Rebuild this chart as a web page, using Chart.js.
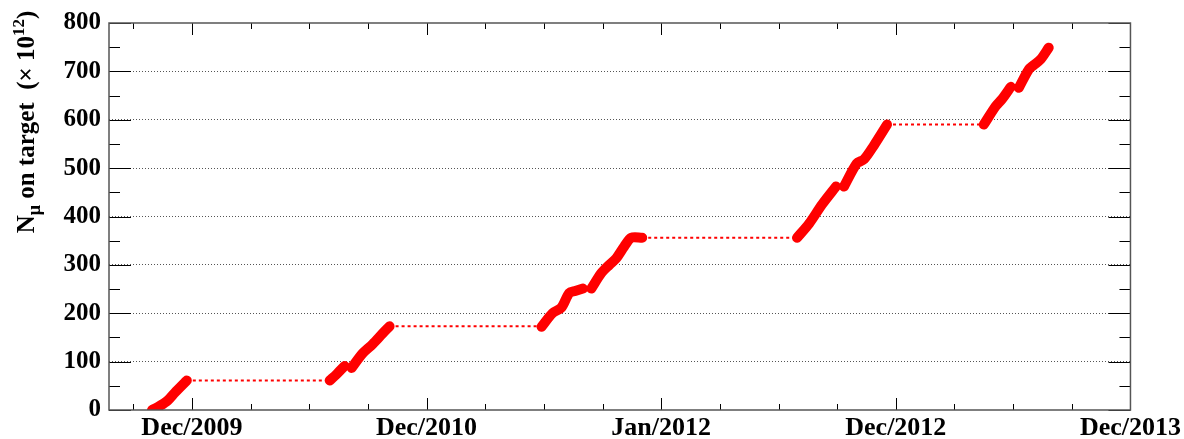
<!DOCTYPE html>
<html>
<head>
<meta charset="utf-8">
<script src="https://cdn.jsdelivr.net/npm/chart.js@4"></script>
<style>
  body { margin: 0; background: #fff; }
  #wrap { width: 1184px; height: 439px; position: relative; }
</style>
</head>
<body>
<div id="wrap"><canvas id="pot"></canvas></div>
<script>
'use strict';

// x = months since Dec/2009
var xTickValues = [0, 12, 24, 36, 48];
var xTickLabels = ['Dec/2009', 'Dec/2010', 'Jan/2012', 'Dec/2012', 'Dec/2013'];
var yTickValues = [0, 100, 200, 300, 400, 500, 600, 700, 800];

// accumulated muons on target, one array pair per run period (null = short break)
var run1X = [-2.04, -1.74, -1.23, -0.87, -0.36, -0.26];
var run1Y = [0, 6, 20, 36, 57, 61];
var run2X = [7.05, 7.4, 7.81, null, 8.17, 8.73, 9.24, 9.75, 10.11];
var run2Y = [61, 74, 91, null, 87, 117, 136, 158, 173];
var run3X = [17.88, 18.44, 18.9, 19.3, 19.6, 20.0, null, 20.43, 20.94, 21.35, 21.71, 22.11, 22.47, 23.03];
var run3Y = [172, 200, 212, 242, 246, 251, null, 251, 283, 300, 314, 338, 356, 356];
var run4X = [30.95, 31.56, 32.23, 32.94, null, 33.35, 34.01, 34.37, 34.88, 35.55];
var run4Y = [356, 385, 425, 462, null, 462, 510, 518, 547, 590];
var run5X = [40.5, 41.11, 41.42, 41.88, null, 42.29, 42.8, 43.05, 43.41, 43.82];
var run5Y = [590, 628, 642, 668, null, 666, 704, 713, 725, 749];

var runs = [[run1X, run1Y], [run2X, run2Y], [run3X, run3Y], [run4X, run4Y], [run5X, run5Y]];

function toPoints(xs, ys) {
  return xs.map(function (x, i) {
    return x === null ? { x: null, y: null } : { x: x, y: ys[i] };
  });
}

// dotted plateaus between runs (shutdown periods)
var gapPoints = [];
for (var i = 0; i < runs.length - 1; i++) {
  var xs = runs[i][0], ys = runs[i][1];
  var last = ys[ys.length - 1];
  gapPoints.push({ x: xs[xs.length - 1], y: last });
  gapPoints.push({ x: runs[i + 1][0][0], y: last });
  gapPoints.push({ x: null, y: null });
}

var datasets = [{
  label: 'shutdown',
  data: gapPoints,
  borderColor: '#ff0000',
  borderWidth: 2,
  borderDash: [3, 3],
  pointRadius: 0,
  spanGaps: false,
  tension: 0
}];
runs.forEach(function (r, k) {
  datasets.push({
    label: 'run ' + (k + 1),
    data: toPoints(r[0], r[1]),
    borderColor: '#ff0000',
    borderWidth: 10,
    borderCapStyle: 'round',
    borderJoinStyle: 'round',
    pointRadius: 0,
    spanGaps: false,
    tension: 0.3
  });
});

var serif = '"Liberation Serif", "DejaVu Serif", serif';

// frame with inward ticks on all four sides, ROOT style
var frameTicks = {
  id: 'frameTicks',
  afterDraw: function (chart) {
    var ctx = chart.ctx, a = chart.chartArea;
    var xs = chart.scales.x, ys = chart.scales.y;
    ctx.save();
    ctx.strokeStyle = '#000';
    ctx.lineWidth = 1;
    ctx.beginPath();
    for (var v = 0; v <= 800; v += 50) {
      var py = Math.round(ys.getPixelForValue(v)) + 0.5;
      var len = v % 100 === 0 ? 22 : 11;
      ctx.moveTo(a.left, py); ctx.lineTo(a.left + len, py);
      ctx.moveTo(a.right, py); ctx.lineTo(a.right - len, py);
    }
    for (var m = -3; m <= 48; m += 3) {
      var px = Math.round(xs.getPixelForValue(m)) + 0.5;
      var l2 = m % 12 === 0 ? 12 : 6;
      ctx.moveTo(px, a.bottom); ctx.lineTo(px, a.bottom - l2);
      ctx.moveTo(px, a.top); ctx.lineTo(px, a.top + l2);
    }
    ctx.stroke();
    ctx.strokeStyle = '#555';
    ctx.lineWidth = 1.5;
    ctx.strokeRect(a.left, a.top, a.right - a.left, a.bottom - a.top);

    // y title with subscript and superscript
    var parts = [
      { t: 'N', s: 25, dy: 0 },
      { t: '\u03bc', s: 18, dy: 6 },
      { t: ' on target  (\u00d7 10', s: 25, dy: 0 },
      { t: '12', s: 17, dy: -10 },
      { t: ')', s: 25, dy: 0 }
    ];
    var total = 0;
    parts.forEach(function (p) {
      ctx.font = 'bold ' + p.s + 'px ' + serif;
      p.w = ctx.measureText(p.t).width;
      total += p.w;
    });
    ctx.translate(34, 122);
    ctx.rotate(-Math.PI / 2);
    ctx.fillStyle = '#000';
    ctx.textBaseline = 'alphabetic';
    var cx = -total / 2;
    parts.forEach(function (p) {
      ctx.font = 'bold ' + p.s + 'px ' + serif;
      ctx.fillText(p.t, cx, p.dy);
      cx += p.w;
    });
    ctx.restore();
  }
};

new Chart(document.getElementById('pot'), {
  type: 'line',
  data: { datasets: datasets },
  options: {
    responsive: true,
    maintainAspectRatio: false,
    animation: false,
    layout: { padding: { top: 15, right: 53, left: 0, bottom: 0 } },
    plugins: { legend: { display: false }, tooltip: { enabled: false } },
    scales: {
      x: {
        type: 'linear',
        min: -4.24,
        max: 48,
        afterBuildTicks: function (s) {
          s.ticks = xTickValues.map(function (v) { return { value: v }; });
        },
        afterFit: function (s) { s.height = 29; },
        ticks: {
          autoSkip: false,
          maxRotation: 0,
          padding: 3,
          color: '#000',
          font: { family: serif, size: 26, weight: 'bold' },
          callback: function (v, i) { return xTickLabels[i]; }
        },
        grid: { display: false, drawTicks: false },
        border: { display: false }
      },
      y: {
        min: 0,
        max: 800,
        afterBuildTicks: function (s) {
          s.ticks = yTickValues.map(function (v) { return { value: v }; });
        },
        afterFit: function (s) { s.width = 109; },
        ticks: {
          padding: 8,
          color: '#000',
          font: { family: serif, size: 25, weight: 'bold' }
        },
        grid: {
          drawTicks: false,
          lineWidth: 1,
          color: function (c) {
            return (c.tick && (c.tick.value === 0 || c.tick.value === 800)) ? 'rgba(0,0,0,0)' : '#555';
          }
        },
        border: { display: false, dash: [1, 2] }
      }
    }
  },
  plugins: [frameTicks]
});
</script>
</body>
</html>
